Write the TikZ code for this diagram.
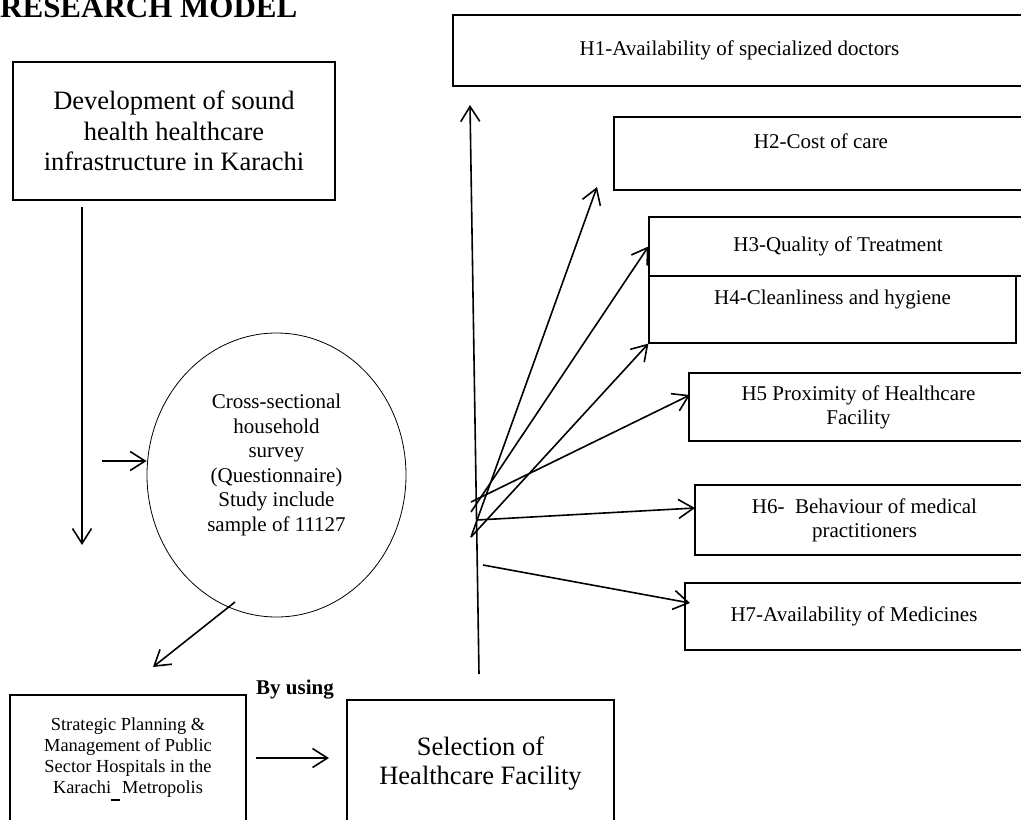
\documentclass[tikz,border=0pt]{standalone}
\usepackage{fontspec}
\setmainfont{Liberation Serif}
\usetikzlibrary{arrows.meta,shapes.geometric}

\begin{document}
\begin{tikzpicture}[x=1pt,y=-1pt,
  box/.style={draw,line width=1.2pt,rectangle,inner sep=0pt,align=center},
  hyp/.style={box,font=\fontsize{21}{24}\selectfont},
  arr/.style={line width=1.6pt,-{Straight Barb[length=15pt,width=19pt]}}]

\useasboundingbox (0,0) rectangle (1021,820);

  %% title
  \node[anchor=base west,inner sep=0pt,font=\fontsize{31}{34}\selectfont\bfseries]
    (title) at (0,17) {RESEARCH MODEL};

  %% left column
  \node[box,minimum width=322,minimum height=138,font=\fontsize{26.5}{30.5}\selectfont]
    (devel) at (174,131) {Development of sound\\health healthcare\\infrastructure in Karachi};
  \node[draw,ellipse,line width=0.8pt,minimum width=259,minimum height=284,inner sep=0pt,
    align=center,font=\fontsize{21}{24.5}\selectfont]
    (survey) at (276.5,475) {Cross-sectional\\household\\survey\\(Questionnaire)\\Study include\\sample of 11127\\~};
  \node[box,minimum width=236,minimum height=129,font=\fontsize{18.4}{21}\selectfont]
    (plan) at (128,759.5) {Strategic Planning \&\\Management of Public\\Sector Hospitals in the\\
      Karachi\rule[-7pt]{9pt}{2pt}\hspace{2pt}Metropolis};
  \node[box,minimum width=267,minimum height=127,font=\fontsize{26.5}{29.5}\selectfont]
    (select) at (480.5,763.5) {Selection of\\Healthcare Facility};
  \node[font=\fontsize{21}{24}\selectfont\bfseries,inner sep=0pt] (byusing) at (295,690) {By using};

  %% hypotheses
  \node[hyp,minimum width=573,minimum height=71] (h1) at (739.5,50.5) {H1-Availability of specialized doctors};
  \node[hyp,minimum width=414,minimum height=73] (h2) at (821,153.5) {H2-Cost of care\\~};
  \node[hyp,minimum width=378,minimum height=59] (h3) at (838,246.5) {H3-Quality of Treatment};
  \node[hyp,minimum width=367,minimum height=67] (h4) at (832.5,309.5) {H4-Cleanliness and hygiene\\~};
  \node[hyp,minimum width=339,minimum height=68] (h5) at (858.5,407) {H5 Proximity of Healthcare\\Facility};
  \node[hyp,minimum width=339,minimum height=70] (h6) at (864.5,520) {H6-\ \ Behaviour of medical\\practitioners};
  \node[hyp,minimum width=338,minimum height=67] (h7) at (854,616.5) {H7-Availability of Medicines};

  %% free ends
  \coordinate (devS) at (82,207);
  \coordinate (devE) at (82,545);
  \coordinate (svin) at (102,461);
  \coordinate (svout) at (235,602);
  \coordinate (planin) at (153,667);
  \coordinate (planout) at (256,758);
  \coordinate (selin) at (329,758);
  \coordinate (hubB) at (479,674);
  \coordinate (hubT) at (470,105);
  \coordinate (fanA) at (471,502); %% H5
  \coordinate (fanB) at (471,512); %% H3
  \coordinate (fanC) at (471,537); %% H2, H4
  \coordinate (fanD) at (477,520); %% H6
  \coordinate (fanE) at (483,565); %% H7
  \coordinate (h2in) at (597,187);
  \coordinate (h5in) at (690,395);
  \coordinate (h6in) at (695,508);
  \coordinate (h7in) at (690,603);

  %% connectors
  \draw[arr] (devS) -- (devE);
  \draw[arr] (svin) -- (svin -| survey.west);
  \draw[arr] (svout) -- (planin);
  \draw[arr] (planout) -- (selin);
  \draw[arr] (hubB) -- (hubT);
  \draw[arr] (fanC) -- (h2in);
  \draw[arr] (fanB) -- (h3.west);
  \draw[arr] (fanC) -- (h4.south west);
  \draw[arr] (fanA) -- (h5in);
  \draw[arr] (fanD) -- (h6in);
  \draw[arr] (fanE) -- (h7in);

\end{tikzpicture}
\end{document}
